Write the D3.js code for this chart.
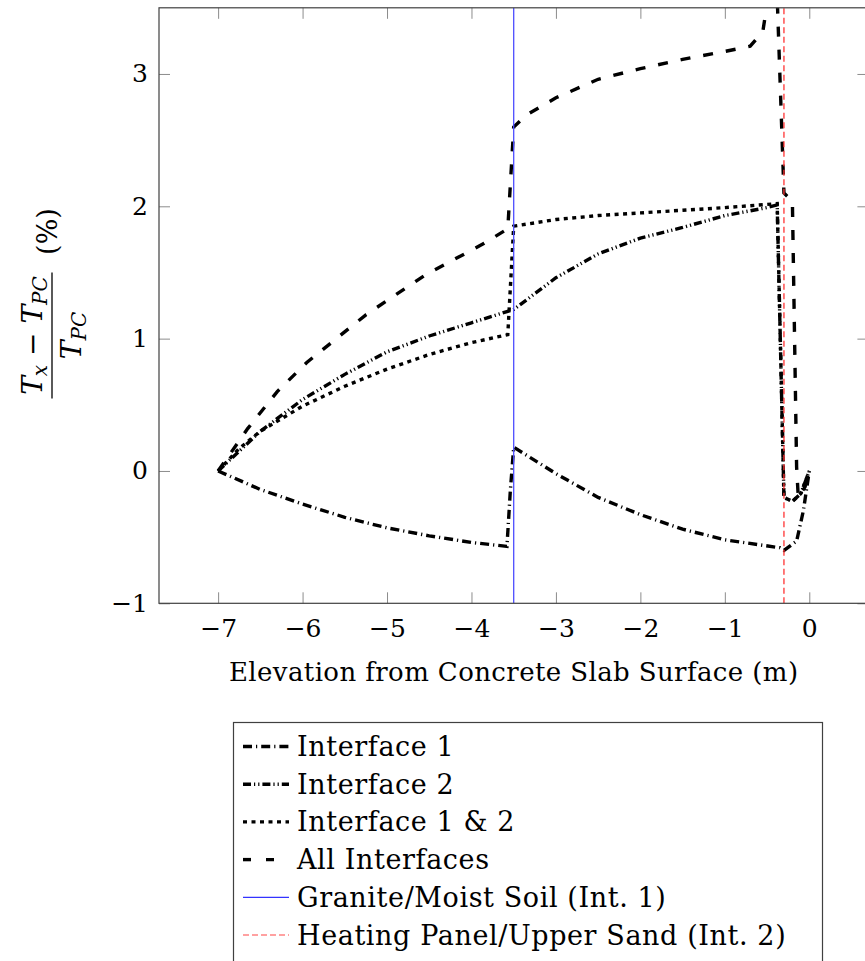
<!DOCTYPE html>
<html lang="en">
<head>
    <meta charset="UTF-8">
    <title>Temperature difference vs elevation</title>
    <script src="https://d3js.org/d3.v7.min.js"></script>
    <style>
        body {
            margin: 0;
            background: white;
        }
        svg text {
            font-family: 'DejaVu Serif', 'Liberation Serif', serif;
            fill: black;
        }
    </style>
</head>
<body>
    <svg width="865" height="961"></svg>

    <script>
        // values (elevation in m, difference in %)
        const interface1X = [-7, -6.5, -6, -5.5, -5, -4.5, -4, -3.58, -3.54, -3.5, -3, -2.5, -2, -1.5, -1, -0.35, -0.3, -0.15, -0.07, 0];
        const interface1Y = [0, -0.14, -0.25, -0.35, -0.43, -0.49, -0.54, -0.57, -0.15, 0.18, -0.02, -0.2, -0.33, -0.44, -0.52, -0.58, -0.6, -0.53, -0.3, 0];

        const interface2X = [-7, -6.5, -6, -5.5, -5, -4.5, -4, -3.5, -3, -2.5, -2, -1.5, -1, -0.5, -0.38, -0.3, -0.2, -0.1, 0];
        const interface2Y = [0, 0.3, 0.54, 0.73, 0.9, 1.02, 1.12, 1.22, 1.46, 1.64, 1.76, 1.84, 1.93, 1.99, 2.01, -0.2, -0.23, -0.17, 0];

        const interface12X = [-7, -6.75, -6.5, -6, -5.5, -5, -4.5, -4, -3.57, -3.5, -3, -2.5, -2, -1.5, -1, -0.38, -0.3, -0.2, -0.1, 0];
        const interface12Y = [0, 0.17, 0.3, 0.49, 0.64, 0.77, 0.88, 0.97, 1.03, 1.85, 1.9, 1.93, 1.95, 1.97, 1.99, 2.02, -0.2, -0.23, -0.17, 0];

        const allX = [-7, -6.65, -6.3, -5.95, -5.6, -5.25, -4.9, -4.55, -4.2, -3.85, -3.57, -3.5, -3.35, -3, -2.5, -2, -1.5, -1, -0.7, -0.55, -0.4, -0.3, -0.2, -0.15, -0.13, -0.05, 0];
        const allY = [0, 0.32, 0.6, 0.82, 1.0, 1.18, 1.33, 1.48, 1.6, 1.72, 1.83, 2.6, 2.69, 2.82, 2.96, 3.04, 3.11, 3.17, 3.21, 3.32, 3.95, 2.1, 2.04, 0.03, -0.2, -0.12, 0];

        const int1Position = -3.5;
        const int2Position = -0.3;

        const xTicks = [-7, -6, -5, -4, -3, -2, -1, 0];
        const yTicks = [-1, 0, 1, 2, 3];

        const legendLabels = ["Interface 1", "Interface 2", "Interface 1 & 2", "All Interfaces",
            "Granite/Moist Soil (Int. 1)", "Heating Panel/Upper Sand (Int. 2)"];

        const svg = d3.select("svg");
        const plotLeft = 159, plotRight = 868.4, plotTop = 7.8, plotBottom = 603.3;

        const x = d3.scaleLinear().domain([-7.7, 0.7]).range([plotLeft, plotRight]);
        const y = d3.scaleLinear().domain([-1, 3.5]).range([plotBottom, plotTop]);

        const fmt = d => d < 0 ? "\u2212" + Math.abs(d) : String(d);

        // clip for curves
        svg.append("clipPath").attr("id", "plot-clip")
            .append("rect")
            .attr("x", plotLeft).attr("y", plotTop)
            .attr("width", plotRight - plotLeft).attr("height", plotBottom - plotTop);

        // axes with inward ticks on all four sides
        const tickLen = 11;
        const styleAxis = g => {
            g.select(".domain").remove();
            g.selectAll(".tick line").attr("stroke", "#8c8c8c").attr("stroke-width", 1);
            g.selectAll(".tick text").style("font-size", "25px").attr("fill", "black");
        };

        svg.append("g")
            .attr("transform", `translate(0,${plotBottom})`)
            .call(d3.axisBottom(x).tickValues(xTicks).tickSize(-tickLen).tickPadding(16).tickFormat(fmt))
            .call(styleAxis);
        svg.append("g")
            .attr("transform", `translate(0,${plotTop})`)
            .call(d3.axisTop(x).tickValues(xTicks).tickSize(-tickLen).tickFormat(""))
            .call(styleAxis);
        svg.append("g")
            .attr("transform", `translate(${plotLeft},0)`)
            .call(d3.axisLeft(y).tickValues(yTicks).tickSize(-tickLen).tickPadding(11).tickFormat(fmt))
            .call(styleAxis);
        svg.append("g")
            .attr("transform", `translate(${plotRight},0)`)
            .call(d3.axisRight(y).tickValues(yTicks).tickSize(-tickLen).tickFormat(""))
            .call(styleAxis);

        const series = [
            {label: legendLabels[0], xs: interface1X, ys: interface1Y, dash: "9,4,1.2,4"},
            {label: legendLabels[1], xs: interface2X, ys: interface2Y, dash: "8,3,1.2,3,1.2,3"},
            {label: legendLabels[2], xs: interface12X, ys: interface12Y, dash: "4,4.5"},
            {label: legendLabels[3], xs: allX, ys: allY, dash: "10,13"}
        ];

        const line = d3.line().x(d => x(d[0])).y(d => y(d[1]));
        const curves = svg.append("g").attr("clip-path", "url(#plot-clip)");

        series.forEach(s => {
            curves.append("path")
                .datum(d3.zip(s.xs, s.ys))
                .attr("fill", "none")
                .attr("stroke", "black")
                .attr("stroke-width", 3.4)
                .attr("stroke-dasharray", s.dash)
                .attr("d", line);
        });

        // interface markers
        curves.append("line")
            .attr("x1", x(int1Position)).attr("x2", x(int1Position))
            .attr("y1", y(-1)).attr("y2", y(3.5))
            .attr("stroke", "#4d4dff").attr("stroke-width", 1.3);
        curves.append("line")
            .attr("x1", x(int2Position)).attr("x2", x(int2Position))
            .attr("y1", y(-1)).attr("y2", y(3.5))
            .attr("stroke", "#ff3333").attr("stroke-width", 1.3)
            .attr("stroke-dasharray", "6,3.5");

        // frame
        svg.append("rect")
            .attr("x", plotLeft).attr("y", plotTop)
            .attr("width", plotRight - plotLeft).attr("height", plotBottom - plotTop)
            .attr("fill", "none").attr("stroke", "#404040").attr("stroke-width", 1.2);

        // x label
        svg.append("text")
            .attr("x", (plotLeft + plotRight) / 2)
            .attr("y", 681)
            .attr("text-anchor", "middle")
            .style("font-size", "26px")
            .style("letter-spacing", "0.4px")
            .text("Elevation from Concrete Slab Surface (m)");

        // y label: fraction (Tx - TPC) / TPC (%)
        const yl = svg.append("g").attr("transform", "translate(52,335.5) rotate(-90)");
        const num = yl.append("text").attr("x", 0).attr("y", -10)
            .attr("text-anchor", "middle").style("font-size", "28px");
        num.append("tspan").style("font-style", "italic").text("T");
        num.append("tspan").attr("dy", 5).style("font-size", "20px").style("font-style", "italic").text("x");
        num.append("tspan").attr("dy", -5).text(" \u2212 ");
        num.append("tspan").style("font-style", "italic").text("T");
        num.append("tspan").attr("dy", 5).style("font-size", "20px").style("font-style", "italic").text("PC");
        yl.append("line").attr("x1", -63).attr("x2", 63).attr("y1", 0).attr("y2", 0)
            .attr("stroke", "black").attr("stroke-width", 1.3);
        const den = yl.append("text").attr("x", 0).attr("y", 29)
            .attr("text-anchor", "middle").style("font-size", "28px");
        den.append("tspan").style("font-style", "italic").text("T");
        den.append("tspan").attr("dy", 5).style("font-size", "20px").style("font-style", "italic").text("PC");
        yl.append("text").attr("x", 104).attr("y", 5)
            .attr("text-anchor", "middle").style("font-size", "27px").text("(%)");

        // legend
        const legend = svg.append("g");
        legend.append("rect")
            .attr("x", 233.5).attr("y", 722.5)
            .attr("width", 589).attr("height", 260)
            .attr("fill", "white").attr("stroke", "#404040").attr("stroke-width", 1.2);

        const legendStyles = [
            {stroke: "black", width: 3.4, dash: "9,4,1.2,4"},
            {stroke: "black", width: 3.4, dash: "8,3,1.2,3,1.2,3"},
            {stroke: "black", width: 3.4, dash: "4,4.5"},
            {stroke: "black", width: 3.4, dash: "8,15"},
            {stroke: "#3333ff", width: 1.2, dash: null},
            {stroke: "#ff4444", width: 1.2, dash: "6,3"}
        ];

        legendLabels.forEach((label, i) => {
            const cy = 746.5 + i * 37.7;
            const st = legendStyles[i];
            legend.append("line")
                .attr("x1", 243).attr("x2", 289)
                .attr("y1", cy).attr("y2", cy)
                .attr("stroke", st.stroke)
                .attr("stroke-width", st.width)
                .attr("stroke-dasharray", st.dash);
            legend.append("text")
                .attr("x", 297)
                .attr("y", cy + 9.5)
                .style("font-size", "27px")
                .style("letter-spacing", "0.6px")
                .text(label);
        });
    </script>
</body>
</html>
